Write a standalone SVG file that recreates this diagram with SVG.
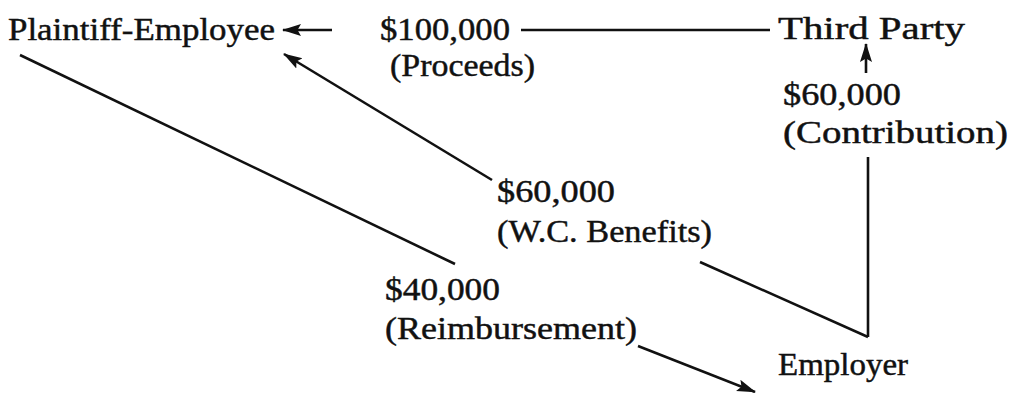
<svg xmlns="http://www.w3.org/2000/svg" width="1013" height="393" viewBox="0 0 1013 393">
<style>
text { font-family: "Liberation Serif", "Times New Roman", serif; font-size: 31px; fill: #111; stroke: #111; stroke-width: 0.45; }
.ln { stroke: #111; stroke-width: 2.6; fill: none; }
.arr { stroke: #111; stroke-width: 2.6; fill: none; marker-end: url(#ah); }
</style>
<defs>
<marker id="ah" markerUnits="userSpaceOnUse" markerWidth="20" markerHeight="14" viewBox="0 0 20 14" refX="18" refY="7" orient="auto">
<path d="M0,1 L19,7 L0,13 L3.5,7 Z" fill="#111"/>
</marker>
</defs>
<rect width="1013" height="393" fill="#fff"/>
<g id="connectors">
<line class="arr" x1="332" y1="30" x2="283" y2="30"/>
<line class="ln" x1="521" y1="30" x2="770" y2="30"/>
<line class="arr" x1="866" y1="73" x2="866" y2="44"/>
<line class="ln" x1="868" y1="157" x2="868" y2="337"/>
<line class="ln" x1="868" y1="337" x2="700" y2="262"/>
<line class="arr" x1="492" y1="180" x2="284" y2="54"/>
<line class="ln" x1="20" y1="55" x2="455" y2="264"/>
<line class="arr" x1="638" y1="346" x2="755" y2="392"/>
</g>
<g id="plaintiff-employee"><text x="8" y="40" textLength="267" lengthAdjust="spacingAndGlyphs">Plaintiff-Employee</text></g>
<g id="third-party"><text x="778" y="39" textLength="187" lengthAdjust="spacingAndGlyphs">Third Party</text></g>
<g id="employer"><text x="778" y="375" textLength="130" lengthAdjust="spacingAndGlyphs">Employer</text></g>
<g id="label-proceeds">
<text x="380" y="40" textLength="130" lengthAdjust="spacingAndGlyphs">$100,000</text>
<text x="390" y="76" textLength="145" lengthAdjust="spacingAndGlyphs">(Proceeds)</text>
</g>
<g id="label-contribution">
<text x="783" y="105" textLength="118" lengthAdjust="spacingAndGlyphs">$60,000</text>
<text x="783" y="143" textLength="225" lengthAdjust="spacingAndGlyphs">(Contribution)</text>
</g>
<g id="label-wc-benefits">
<text x="497" y="202" textLength="118" lengthAdjust="spacingAndGlyphs">$60,000</text>
<text x="497" y="242" textLength="215" lengthAdjust="spacingAndGlyphs">(W.C. Benefits)</text>
</g>
<g id="label-reimbursement">
<text x="385" y="300" textLength="115" lengthAdjust="spacingAndGlyphs">$40,000</text>
<text x="385" y="339" textLength="252" lengthAdjust="spacingAndGlyphs">(Reimbursement)</text>
</g>
</svg>
